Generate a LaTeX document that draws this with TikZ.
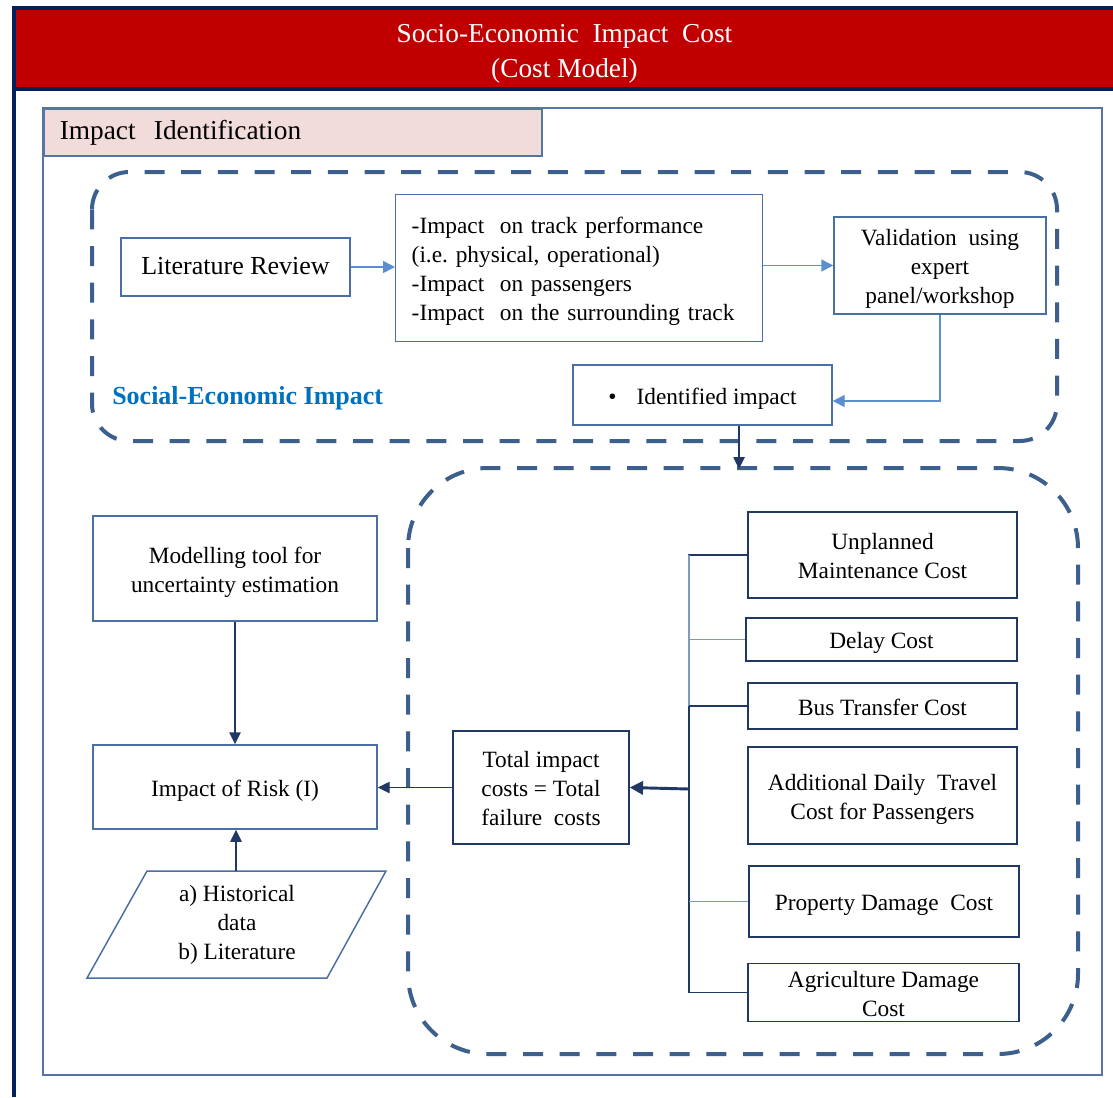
\documentclass[tikz,border=0pt]{standalone}
\usepackage{fontspec}
\setmainfont{Liberation Serif}
\usetikzlibrary{arrows.meta,calc}

\definecolor{frameNavy}{HTML}{002060}
\definecolor{headRed}{HTML}{C00000}
\definecolor{frameBlue}{HTML}{5775A3}
\definecolor{boxBlue}{HTML}{4A6FA5}
\definecolor{costNavy}{HTML}{1F3864}
\definecolor{dashBlue}{HTML}{3C5F8C}
\definecolor{arrowBlue}{HTML}{5B8FD0}
\definecolor{feedGrey}{HTML}{7F98C4}
\definecolor{labBlue}{HTML}{0070C0}
\definecolor{tabPink}{HTML}{F2DCDB}

\newcommand{\bodysize}{\fontsize{17.5}{21.75}\selectfont}
\newcommand{\bigsize}{\fontsize{19.5}{23}\selectfont}
\newcommand{\headsize}{\fontsize{20.5}{26}\selectfont}

% how far the text of a box sits below the box's centre
\newcommand{\pxdrop}{2.4pt}

% rectangle node given by its two corners (x1,y1) (x2,y2) in pixel units;
% lines of its text are separated by \\ and centred
\newcommand{\pxnode}[7][]{%
  \pgfmathsetmacro\pxcx{(#3+#5)/2}%
  \pgfmathsetmacro\pxcy{(#4+#6)/2}%
  \pgfmathsetmacro\pxw{(#5-#3)*0.75}%
  \pgfmathsetmacro\pxh{(#6-#4)*0.75}%
  \node[#1, minimum width=\pxw pt, minimum height=\pxh pt] (#2) at (\pxcx,\pxcy)
    {\raisebox{-\pxdrop}[\height][\depth]{\begin{tabular}{@{}c@{}}#7\end{tabular}}};%
}

\begin{document}
\begin{tikzpicture}[x=0.75pt,y=-0.75pt,
  box/.style={draw=boxBlue, line width=1.1pt, fill=white, inner sep=0pt, font=\bodysize},
  costbox/.style={box, draw=costNavy},
  arrowLight/.style={draw=arrowBlue, line width=1.1pt, -{Triangle[length=9pt,width=9pt]}},
  arrowDark/.style={draw=costNavy, line width=1.1pt, -{Triangle[length=9pt,width=8.5pt]}},
  feed/.style={draw=costNavy, line width=1.1pt},
  feedLight/.style={draw=feedGrey, line width=1.1pt},
  groupline/.style={draw=dashBlue, line width=3pt, dash pattern=on 15pt off 12.5pt},
]
\useasboundingbox (0,0) rectangle (1113,1097);
\fill[white] (0,0) rectangle (1113,1097);

% title band with navy frame
\fill[frameNavy] (12,6) rectangle (1113,91);
{\renewcommand{\pxdrop}{3.6pt}%
 \pxnode[fill=headRed, inner sep=0pt, text=white, font=\headsize]{title}{16}{10}{1113}{87}
   {Socio-Economic\ \ Impact\ \ Cost\\(Cost Model)}}
\fill[frameNavy] (12,91) rectangle (16,1097);

% identification frame and its tab
\draw[frameBlue, line width=1.2pt] (43,108) rectangle (1102,1075);
\node[anchor=north west, draw=frameBlue, line width=1.2pt, fill=tabPink,
      minimum width=373.5pt, minimum height=35.25pt, inner xsep=12pt, inner ysep=0pt,
      text width=349.5pt, align=left, font=\headsize] (tab) at (43,108) {Impact\ \ Identification};

% upper group: identifying the impacts
\draw[groupline, rounded corners=28pt] (92,172) rectangle (1057,441);
{\renewcommand{\pxdrop}{0.8pt}%
 \pxnode[box, font=\bigsize]{lit}{121}{238}{350}{296}{Literature Review}}
\node[box, anchor=north west, minimum width=275.25pt, minimum height=110.25pt,
      inner xsep=12pt, text width=251.25pt, align=left,
      execute at begin node={\rule{0pt}{17.5pt}}] (imp) at (395,194)
      {-Impact\ \ on track performance\\(i.e.\ physical, operational)\\-Impact\ \ on passengers\\-Impact\ \ on the surrounding track};
\pxnode[box]{val}{834}{217}{1046}{314}{Validation\ \ using\\expert\\panel/workshop}
\pxnode[box]{idi}{573}{365}{832}{425}{\textbullet\hspace{15pt}Identified impact}
\node[anchor=west, inner sep=0pt, text=labBlue, font=\bigsize\bfseries] (selab) at (112,398) {Social-Economic Impact};

\draw[arrowLight] (lit.east) -- (lit.east -| imp.west);
\draw[arrowLight] (imp.east |- val.west) -- (val.west);
\draw[arrowLight] (val.south) |- ([yshift=-4.5pt]idi.east);

% lower group: costing the impacts
\draw[groupline, rounded corners=60pt] (408,468) rectangle (1078,1054);
\coordinate (lowtop) at (739,469);
\draw[arrowDark] (idi.south -| lowtop) -- (lowtop);

\pxnode[box]{model}{93}{516}{377}{621}{Modelling tool for\\uncertainty estimation}
\pxnode[box]{risk}{93}{745}{377}{829}{Impact of Risk (I)}
\draw[boxBlue, line width=1.1pt] (87,978) -- (327,978) -- (386,871) -- (147,871) -- cycle;
\node[inner sep=0pt, align=center, font=\bodysize] (hist) at (237,925) {a) Historical\\data\\b) Literature};
\coordinate (histtop) at (236,871);

\draw[arrowDark] (model.south) -- (risk.north);
\draw[arrowDark] (histtop) -- (histtop |- risk.south);

\pxnode[costbox]{total}{453}{731}{629}{844}{Total impact\\costs = Total\\failure\ \ costs}
\draw[arrowDark] (total.west) -- (total.west -| risk.east);

\pxnode[costbox]{unpl}{748}{512}{1017}{598}{Unplanned\\Maintenance Cost}
\pxnode[costbox]{delay}{746}{618}{1017}{661}{Delay Cost}
\pxnode[costbox]{busc}{748}{683}{1017}{729}{Bus Transfer Cost}
\pxnode[costbox]{daily}{748}{747}{1017}{844}{Additional Daily\ \ Travel\\Cost for Passengers}
\pxnode[costbox]{prop}{749}{866}{1019}{937}{Property Damage\ \ Cost}
\pxnode[costbox]{agri}{748}{964}{1019}{1021}{Agriculture Damage\\Cost}

% collecting bus
\coordinate (bus) at (689,789);
\draw[feed] (unpl.west) -- (unpl.west -| bus) -- (agri.west -| bus) -- (agri.west);
\draw[feedLight] (unpl.west -| bus) -- (busc.west -| bus);
\draw[feedLight] (delay.west) -- (delay.west -| bus);
\draw[feed] (busc.west) -- (busc.west -| bus);
\draw[feedLight] (prop.west) -- (prop.west -| bus);
\draw[draw=costNavy, line width=2.2pt, -{Triangle[length=10pt,width=10pt]}] (bus) -- (total.east);
\end{tikzpicture}
\end{document}
